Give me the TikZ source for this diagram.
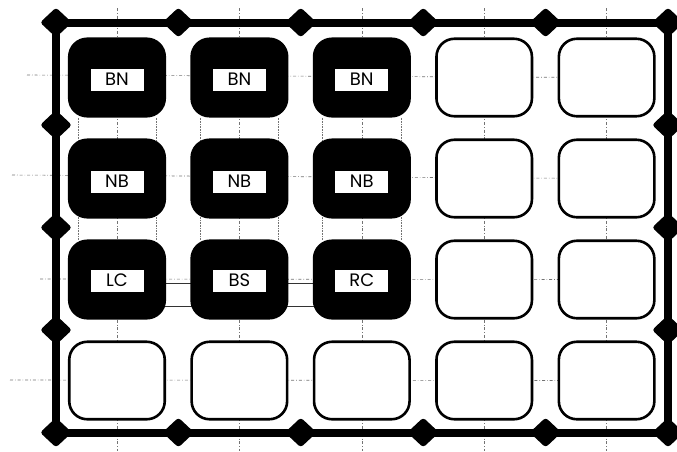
\documentclass[tikz,border=0pt]{standalone}
\usepackage{fontspec}
\setmainfont{Poppins}
\usepackage{tikz}
\usetikzlibrary{shapes.geometric,positioning,backgrounds}

\begin{document}
\begin{tikzpicture}[
        x=1pt, y=-1pt,
        node distance=20.9pt and 24.3pt,
        cell/.style={rectangle, draw, line width=2.6pt, fill=white, rounded corners=18pt, minimum width=95.5pt, minimum height=77.5pt, inner sep=0pt},
        busy/.style={cell, fill=black},
        tag/.style={rectangle, fill=white, minimum width=53pt, minimum height=22pt, inner sep=0pt, font=\fontsize{18}{18}\selectfont},
        joint/.style={diamond, fill=black, minimum width=32pt, minimum height=30pt, inner sep=0pt, rounded corners=3pt},
        frame/.style={draw, line width=8pt},
        guide/.style={draw, black!55, line width=0.6pt, dash dot},
        hint/.style={draw, black!55, line width=0.6pt, densely dotted},
        bar/.style={draw, black!80, line width=0.8pt}
    ]
    \useasboundingbox (0,0) rectangle (677,451);

    % Frame
    \coordinate (nw) at (56,22.5);
    \coordinate (se) at (668,432.5);

    % Cells
    \node [busy] (c11) at (117,77.5) {};
    \node [busy, right=of c11] (c12) {};
    \node [busy, right=of c12] (c13) {};
    \node [cell, right=of c13] (c14) {};
    \node [cell, right=of c14] (c15) {};

    \node [busy, below=of c11] (c21) {};
    \node [busy, right=of c21] (c22) {};
    \node [busy, right=of c22] (c23) {};
    \node [cell, right=of c23] (c24) {};
    \node [cell, right=of c24] (c25) {};

    \node [busy, below=of c21] (c31) {};
    \node [busy, right=of c31] (c32) {};
    \node [busy, right=of c32] (c33) {};
    \node [cell, right=of c33] (c34) {};
    \node [cell, right=of c34] (c35) {};

    \node [cell, below=of c31] (c41) {};
    \node [cell, right=of c41] (c42) {};
    \node [cell, right=of c42] (c43) {};
    \node [cell, right=of c43] (c44) {};
    \node [cell, right=of c44] (c45) {};

    % Labels
    \node [tag] (l11) at ([yshift=-2pt]c11) {BN};
    \node [tag] (l12) at ([yshift=-2pt]c12) {BN};
    \node [tag] (l13) at ([yshift=-2pt]c13) {BN};
    \node [tag] (l21) at ([yshift=-3pt]c21) {NB};
    \node [tag] (l22) at ([yshift=-3pt]c22) {NB};
    \node [tag] (l23) at ([yshift=-3pt]c23) {NB};
    \node [tag] (l31) at ([yshift=-1pt]c31) {LC};
    \node [tag] (l32) at ([yshift=-1pt]c32) {BS};
    \node [tag] (l33) at ([yshift=-1pt]c33) {RC};

    % Construction lines
    \begin{scope}[on background layer]
        \path [guide] (27,75) -- (c15.center);
        \path [guide] (12,175) -- (c25.center);
        \path [guide] (40,279) -- (c35.center);
        \path [guide] (10,380) -- (c45.center);
        \foreach \c in {1,...,5} {
            \path [guide] (c1\c.center |- 0,8) -- (c4\c.center |- 0,451);
        }
        \foreach \c in {1,2,3} {
            \path [hint] ([xshift=10pt]c1\c.south west) -- ([xshift=10pt]c3\c.north west);
            \path [hint] ([xshift=-10pt]c1\c.south east) -- ([xshift=-10pt]c3\c.north east);
        }
        \path [bar] ([yshift=-4pt]c31.center) -- ([yshift=-4pt]c33.center);
        \path [bar] ([yshift=-27pt]c31.center) -- ([yshift=-27pt]c33.center);
    \end{scope}

    \draw [frame] (nw) rectangle (se);

    % Joints
    \foreach \i in {0,...,5} {
        \node [joint] (jn\i) at (56+122.4*\i, 22.5) {};
        \node [joint] (js\i) at (56+122.4*\i, 432.5) {};
    }
    \foreach \j in {1,2,3} {
        \node [joint] (jw\j) at (56, 22.5+102.5*\j) {};
        \node [joint] (je\j) at (668, 22.5+102.5*\j) {};
    }

\end{tikzpicture}
\end{document}
